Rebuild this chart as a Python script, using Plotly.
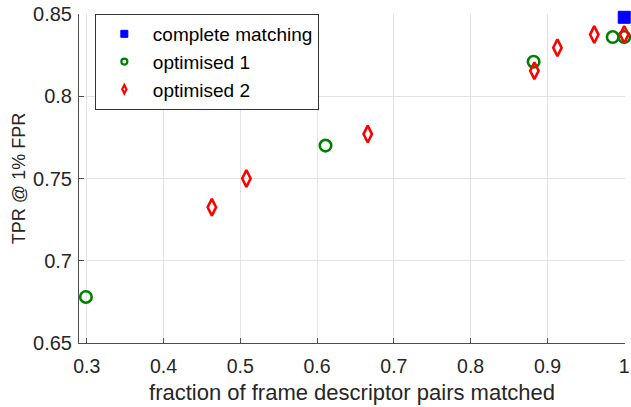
import plotly.graph_objects as go

# Data
complete_x = [1.0]
complete_y = [0.848]

opt1_x = [0.299, 0.611, 0.882, 0.985, 1.0]
opt1_y = [0.678, 0.770, 0.821, 0.836, 0.836]

opt2_x = [0.463, 0.508, 0.666, 0.883, 0.913, 0.961, 1.0]
opt2_y = [0.7325, 0.750, 0.777, 0.8155, 0.8295, 0.8375, 0.8375]

x_ticks = [0.3, 0.4, 0.5, 0.6, 0.7, 0.8, 0.9, 1.0]
x_ticklabels = ["0.3", "0.4", "0.5", "0.6", "0.7", "0.8", "0.9", "1"]
y_ticks = [0.65, 0.7, 0.75, 0.8, 0.85]
y_ticklabels = ["0.65", "0.7", "0.75", "0.8", "0.85"]

FONT = "Liberation Sans, Arial, sans-serif"
TXT = "#262626"

fig = go.Figure()
fig.add_trace(go.Scatter(
    x=complete_x, y=complete_y, mode="markers", name="complete matching",
    marker=dict(symbol="square", size=12, color="#0000ff",
                line=dict(color="#0000ff", width=1)),
    cliponaxis=False, showlegend=False))
fig.add_trace(go.Scatter(
    x=opt1_x, y=opt1_y, mode="markers", name="optimised 1",
    marker=dict(symbol="circle-open", size=11.5, color="#008000",
                line=dict(color="#008000", width=2.6)),
    cliponaxis=False, showlegend=False))
fig.add_trace(go.Scatter(
    x=opt2_x, y=opt2_y, mode="markers", name="optimised 2",
    marker=dict(symbol="diamond-tall-open", size=12, color="#ff0000",
                line=dict(color="#ff0000", width=2.6)),
    cliponaxis=False, showlegend=False))

# legend-only entries with small symbols (as in the reference legend)
fig.add_trace(go.Scatter(x=[None], y=[None], mode="markers", name="complete matching",
                         marker=dict(symbol="square", size=7, color="#0000ff",
                                     line=dict(color="#0000ff", width=1))))
fig.add_trace(go.Scatter(x=[None], y=[None], mode="markers", name="optimised 1",
                         marker=dict(symbol="circle-open", size=6, color="#008000",
                                     line=dict(color="#008000", width=2.2))))
fig.add_trace(go.Scatter(x=[None], y=[None], mode="markers", name="optimised 2",
                         marker=dict(symbol="diamond-tall-open", size=6, color="#ff0000",
                                     line=dict(color="#ff0000", width=2.2))))

axis_common = dict(
    showgrid=True, gridcolor="#e3e3e3", gridwidth=1,
    showline=True, linecolor="#4d4d4d", linewidth=1,
    ticks="inside", ticklen=5, tickcolor="#4d4d4d",
    zeroline=False, automargin=False,
)

fig.update_layout(
    width=631, height=407,
    margin=dict(l=79, r=6, t=14, b=64),
    paper_bgcolor="white", plot_bgcolor="white",
    font=dict(family=FONT, color=TXT),
    xaxis=dict(range=[0.29, 1.001], tickvals=x_ticks, ticktext=x_ticklabels,
               ticklabelstandoff=6,
               tickfont=dict(family=FONT, size=19.5, color=TXT),
               title=dict(text="fraction of frame descriptor pairs matched",
                          font=dict(family=FONT, size=22, color=TXT), standoff=8),
               **axis_common),
    yaxis=dict(range=[0.65, 0.85], tickvals=y_ticks, ticktext=y_ticklabels,
               ticklabelstandoff=2,
               tickfont=dict(family=FONT, size=20, color=TXT),
               title=dict(text="TPR @ 1% FPR",
                          font=dict(family=FONT, size=18, color=TXT), standoff=2),
               **axis_common),
    legend=dict(x=0.029, y=1.0, xanchor="left", yanchor="top",
                bgcolor="white", bordercolor="#333333", borderwidth=1,
                font=dict(family=FONT, size=19, color="#000000"),
                itemwidth=47, tracegroupgap=0),
    showlegend=True,
)

fig.write_html("out.html",
               config={"displayModeBar": False},
               post_script="document.body.style.margin='0';document.body.style.padding='0';")
